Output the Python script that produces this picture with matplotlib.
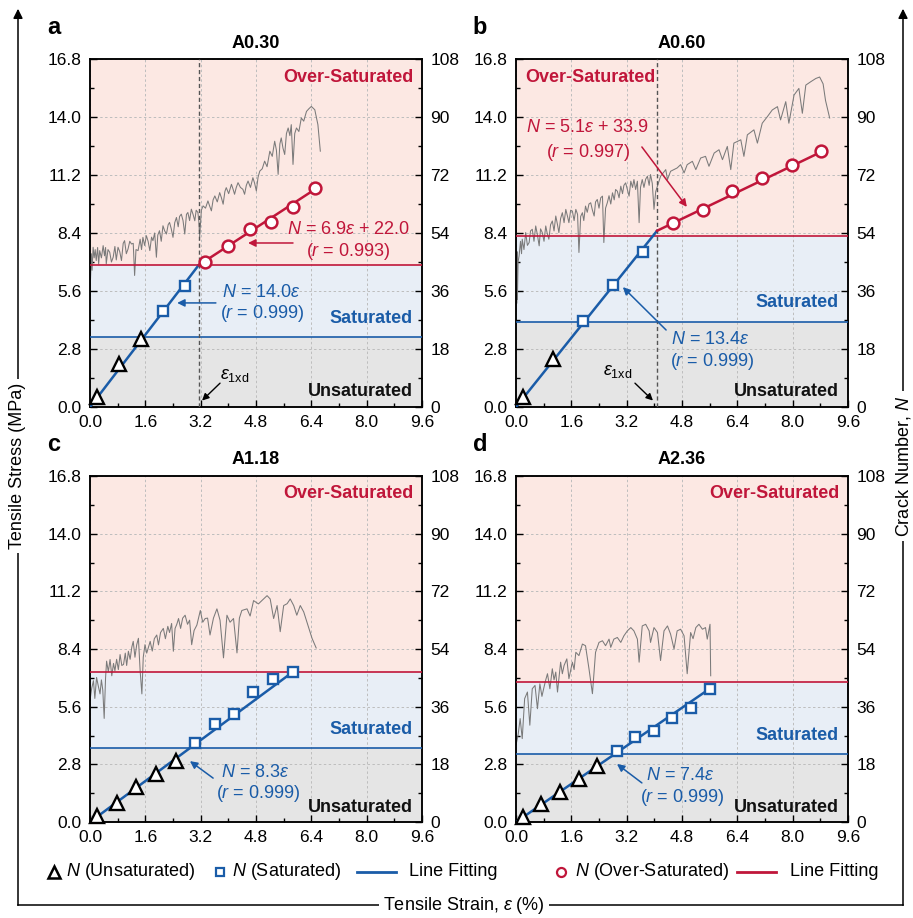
import matplotlib
matplotlib.use('Agg')
import matplotlib.pyplot as plt
from matplotlib import font_manager
from matplotlib.lines import Line2D
from matplotlib.patches import FancyArrowPatch
from matplotlib.ticker import FixedLocator, MultipleLocator

names = {f.name for f in font_manager.fontManager.ttflist}
BASE = 'Liberation Sans' if 'Liberation Sans' in names else 'DejaVu Sans'
HAS_NARROW = 'Liberation Sans Narrow' in names
NARROW = 'Liberation Sans Narrow' if HAS_NARROW else BASE
NARROW_SIZE = 15 if HAS_NARROW else 13

plt.rcParams['font.family'] = [BASE, 'DejaVu Sans']
plt.rcParams['mathtext.fontset'] = 'custom'
plt.rcParams['mathtext.rm'] = BASE
plt.rcParams['mathtext.it'] = BASE + ':italic'
plt.rcParams['mathtext.bf'] = BASE + ':bold'
plt.rcParams['mathtext.sf'] = NARROW + ':italic'

# ---------------- data ----------------
x_ticks = [0.0, 1.6, 3.2, 4.8, 6.4, 8.0, 9.6]
x_tick_labels = ['0.0', '1.6', '3.2', '4.8', '6.4', '8.0', '9.6']
stress_ticks = [0.0, 2.8, 5.6, 8.4, 11.2, 14.0, 16.8]
stress_tick_labels = ['0.0', '2.8', '5.6', '8.4', '11.2', '14.0', '16.8']
crack_ticks = [0, 18, 36, 54, 72, 90, 108]
crack_tick_labels = ['0', '18', '36', '54', '72', '90', '108']

titles = ['A0.30', 'A0.60', 'A1.18', 'A2.36']
letters = ['a', 'b', 'c', 'd']

# stress-strain curves (strain %, stress MPa)
strain_a = [0.0, 0.02, 0.04, 0.06, 0.09, 0.12, 0.15, 0.18, 0.22, 0.25, 0.28, 0.33, 0.38, 0.42, 0.45, 0.47,
            0.52, 0.57, 0.62, 0.67, 0.72, 0.76, 0.81, 0.86, 0.91, 0.96, 1.0, 1.05, 1.1, 1.15, 1.2,
            1.25, 1.29, 1.33, 1.39, 1.45, 1.49, 1.53, 1.58, 1.63, 1.68, 1.73, 1.78, 1.82, 1.87, 1.92,
            1.96, 2.01, 2.06, 2.11, 2.16, 2.21, 2.26, 2.30, 2.35, 2.40, 2.45, 2.50, 2.55, 2.59, 2.64,
            2.69, 2.74, 2.79, 2.83, 2.88, 2.93, 2.98, 3.03, 3.07, 3.12, 3.15, 3.17, 3.22, 3.27,
            3.34, 3.41, 3.46, 3.51, 3.56, 3.61, 3.68, 3.75, 3.80, 3.85, 3.90, 3.94, 4.01, 4.09, 4.14,
            4.18, 4.23, 4.28, 4.35, 4.42, 4.47, 4.52, 4.57, 4.64, 4.71, 4.76, 4.81, 4.86, 4.91, 4.98,
            5.05, 5.12, 5.20, 5.27, 5.34, 5.39, 5.44, 5.49, 5.53, 5.58, 5.63, 5.68, 5.73, 5.78, 5.82,
            5.87, 5.92, 5.97, 6.04, 6.11, 6.18, 6.26, 6.33, 6.40, 6.50, 6.59, 6.66]
stress_a = [5.6, 6.4, 7.4, 6.6, 7.71, 7.2, 7.6, 7.07, 7.7, 6.9, 7.55, 7.2, 7.79, 7.3, 7.7, 6.91,
            7.6, 7.47, 7.0, 7.23, 7.75, 7.1, 7.71, 7.5, 7.07, 7.9, 8.03, 7.4, 7.63, 8.0, 7.87,
            7.9, 6.35, 7.6, 7.55, 8.1, 7.6, 8.19, 7.8, 8.27, 8.0, 7.55, 8.2, 8.03, 8.4, 7.23,
            8.3, 8.51, 8.0, 8.75, 8.5, 8.35, 8.8, 8.91, 8.6, 8.19, 8.9, 9.15, 8.7, 9.2, 9.31,
            9.0, 8.35, 9.3, 9.39, 9.0, 9.55, 9.3, 8.99, 9.5, 9.39, 8.9, 8.19, 9.5, 9.71,
            9.6, 9.95, 9.7, 9.47, 10.0, 10.19, 9.9, 10.35, 10.1, 9.79, 10.4, 10.59, 10.3, 10.75, 10.5,
            10.27, 10.6, 10.83, 10.6, 10.51, 10.27, 10.7, 10.91, 10.6, 11.07, 10.8, 10.43, 11.1, 11.39, 11.5,
            11.87, 11.6, 12.35, 12.1, 12.83, 12.4, 11.23, 12.7, 12.99, 12.5, 12.19, 13.2, 13.47, 13.1, 13.63,
            11.71, 13.2, 13.47, 13.3, 13.95, 13.8, 14.27, 14.4, 14.51, 14.35, 13.63, 12.35]

strain_b = [0.0, 0.01, 0.02, 0.03, 0.04, 0.06, 0.09, 0.13, 0.16, 0.18, 0.23, 0.28, 0.33, 0.38, 0.42, 0.47,
            0.52, 0.57, 0.62, 0.67, 0.71, 0.76, 0.81, 0.86, 0.90, 0.95, 1.0, 1.05, 1.10, 1.15, 1.20,
            1.24, 1.29, 1.34, 1.39, 1.44, 1.49, 1.53, 1.58, 1.63, 1.68, 1.73, 1.78, 1.82, 1.87, 1.92,
            1.96, 2.01, 2.06, 2.11, 2.16, 2.21, 2.26, 2.30, 2.35, 2.40, 2.45, 2.50, 2.54, 2.59, 2.64,
            2.69, 2.74, 2.79, 2.84, 2.88, 2.93, 2.98, 3.03, 3.08, 3.12, 3.17, 3.22, 3.27, 3.32, 3.37,
            3.41, 3.46, 3.51, 3.56, 3.60, 3.65, 3.70, 3.75, 3.80, 3.85, 3.89, 3.94, 3.99, 4.04, 4.09,
            4.18, 4.33, 4.38, 4.47, 4.66, 4.76, 4.86, 4.95, 5.10, 5.20, 5.34, 5.48, 5.58, 5.73, 5.87,
            5.97, 6.11, 6.21, 6.30, 6.50, 6.59, 6.69, 6.88, 6.98, 7.12, 7.27, 7.41, 7.56, 7.65, 7.80,
            7.89, 8.04, 8.18, 8.28, 8.38, 8.52, 8.67, 8.78, 8.88, 8.95, 9.07]
stress_b = [4.6, 7.3, 5.0, 7.5, 5.2, 7.0, 7.30, 8.0, 7.4, 8.10, 7.6, 8.42, 7.8, 7.94, 8.5, 8.58,
            8.0, 8.74, 8.3, 7.78, 8.6, 8.42, 8.0, 8.74, 8.4, 8.10, 8.8, 8.98, 8.5, 9.22, 8.8,
            8.42, 9.1, 9.38, 8.9, 9.54, 9.2, 8.90, 9.5, 9.46, 9.0, 9.54, 9.3, 7.46, 9.2, 9.38,
            9.0, 9.70, 9.4, 9.8, 9.86, 9.5, 9.22, 9.9, 10.02, 9.6, 10.1, 10.18, 7.94, 9.6, 9.86,
            10.2, 9.8, 10.34, 10.0, 10.5, 10.42, 10.1, 10.66, 10.3, 10.7, 10.82, 10.5, 10.18, 10.9, 10.6,
            10.98, 10.5, 10.9, 8.90, 10.6, 10.98, 10.6, 11.0, 11.14, 10.7, 11.22, 10.8, 9.54, 10.4, 10.66,
            11.14, 11.46, 10.98, 11.38, 11.54, 11.70, 11.30, 11.70, 11.86, 11.46, 12.02, 12.10, 11.62, 12.26, 12.42,
            11.94, 12.58, 11.46, 12.74, 12.90, 12.10, 13.14, 13.38, 12.74, 13.70, 14.02, 14.34, 14.50, 13.86, 14.74,
            13.70, 15.06, 15.38, 14.18, 15.54, 15.70, 15.86, 15.93, 15.6, 14.8, 13.95]

strain_c = [0.0, 0.05, 0.10, 0.14, 0.19, 0.24, 0.29, 0.33, 0.37, 0.41, 0.45, 0.48, 0.53, 0.58, 0.63, 0.68,
            0.72, 0.77, 0.82, 0.87, 0.92, 0.97, 1.02, 1.06, 1.11, 1.16, 1.21, 1.25, 1.30, 1.35, 1.40,
            1.45, 1.50, 1.54, 1.59, 1.64, 1.74, 1.80, 1.86, 1.93, 1.98, 2.04, 2.12, 2.18, 2.25, 2.30,
            2.36, 2.41, 2.46, 2.51, 2.56, 2.62, 2.68, 2.75, 2.82, 2.88, 2.94, 3.01, 3.09, 3.19, 3.26,
            3.33, 3.40, 3.47, 3.57, 3.67, 3.76, 3.86, 3.96, 4.05, 4.15, 4.25, 4.32, 4.39, 4.54, 4.63,
            4.73, 4.87, 5.00, 5.12, 5.21, 5.31, 5.41, 5.50, 5.60, 5.70, 5.79, 5.89, 5.98, 6.08, 6.18,
            6.27, 6.42, 6.54]
stress_c = [5.91, 6.5, 6.86, 6.0, 7.02, 6.6, 6.22, 6.9, 6.4, 5.03, 7.0, 7.81, 7.3, 7.89, 7.1, 7.7,
            7.34, 7.9, 7.4, 8.13, 7.6, 7.65, 8.2, 7.6, 8.29, 7.9, 8.5, 8.77, 8.0, 8.6, 8.92,
            7.34, 6.22, 8.0, 8.61, 8.2, 8.77, 8.3, 8.9, 9.08, 8.6, 9.2, 9.40, 8.9, 9.5, 9.2,
            9.64, 8.29, 9.4, 9.6, 9.88, 9.4, 9.9, 10.04, 9.6, 9.8, 8.61, 9.3, 9.56, 10.27, 9.7,
            9.88, 9.9, 9.08, 9.9, 10.35, 9.8, 7.97, 10.04, 9.7, 9.88, 8.21, 9.9, 10.27, 10.35, 10.0,
            10.75, 10.59, 10.8, 10.99, 10.83, 9.88, 10.51, 9.24, 10.51, 10.6, 10.83, 10.51, 10.04, 10.51, 10.2,
            9.72, 8.92, 8.45]

strain_d = [0.0, 0.06, 0.12, 0.18, 0.25, 0.33, 0.40, 0.47, 0.55, 0.62, 0.69, 0.75, 0.81, 0.86, 0.91, 0.98,
            1.05, 1.10, 1.15, 1.20, 1.29, 1.34, 1.39, 1.47, 1.53, 1.63, 1.68, 1.73, 1.82, 1.92, 2.01,
            2.11, 2.21, 2.30, 2.40, 2.50, 2.59, 2.69, 2.74, 2.83, 2.93, 3.03, 3.12, 3.22, 3.32, 3.41,
            3.51, 3.56, 3.65, 3.75, 3.85, 3.89, 3.99, 4.09, 4.18, 4.28, 4.38, 4.47, 4.57, 4.66, 4.76,
            4.86, 4.95, 5.05, 5.12, 5.20, 5.29, 5.39, 5.48, 5.53, 5.61, 5.63]
stress_d = [3.74, 4.22, 5.02, 4.05, 5.99, 6.31, 4.70, 6.47, 6.63, 5.50, 6.71, 6.1, 6.55, 6.9, 7.20, 6.47,
            7.44, 6.9, 7.28, 6.31, 7.76, 7.2, 7.60, 7.92, 6.96, 7.76, 7.4, 8.24, 8.08, 8.64, 8.56,
            7.44, 6.23, 8.24, 8.72, 8.80, 8.56, 8.88, 8.48, 8.88, 8.96, 8.72, 9.04, 9.28, 9.44, 9.28,
            8.88, 7.76, 9.52, 9.60, 9.28, 8.72, 9.44, 9.20, 7.84, 9.28, 9.52, 9.12, 8.40, 9.28, 9.36,
            9.04, 7.20, 9.20, 8.9, 9.44, 9.60, 9.36, 9.44, 8.88, 9.60, 7.10]

# crack numbers
unsat_x_a = [0.19, 0.84, 1.48]
unsat_n_a = [3.0, 13.2, 21.1]
sat_x_a = [2.10, 2.74]
sat_n_a = [29.8, 37.4]
over_x_a = [3.33, 3.99, 4.62, 5.22, 5.88, 6.51]
over_n_a = [45.1, 50.1, 55.2, 57.3, 62.1, 68.1]

unsat_x_b = [0.19, 1.06]
unsat_n_b = [3.0, 15.0]
sat_x_b = [1.94, 2.80, 3.66]
sat_n_b = [26.7, 37.8, 48.2]
over_x_b = [4.53, 5.40, 6.26, 7.12, 7.99, 8.83]
over_n_b = [57.0, 61.0, 67.0, 71.1, 75.0, 79.3]

unsat_x_c = [0.20, 0.77, 1.34, 1.90, 2.48]
unsat_n_c = [2.0, 6.0, 11.0, 15.0, 19.0]
sat_x_c = [3.04, 3.60, 4.16, 4.72, 5.29, 5.86]
sat_n_c = [24.6, 30.6, 33.6, 40.5, 44.6, 46.8]
over_x_c = []
over_n_c = []

unsat_x_d = [0.19, 0.73, 1.27, 1.81, 2.35]
unsat_n_d = [1.5, 5.5, 9.4, 13.5, 17.5]
sat_x_d = [2.91, 3.45, 3.98, 4.52, 5.07, 5.60]
sat_n_d = [22.2, 26.4, 28.4, 32.6, 35.5, 41.6]
over_x_d = []
over_n_d = []

# fitted lines (end points)
fit_blue_x_a = [0.0, 3.14]
fit_blue_n_a = [0.0, 44.0]
fit_red_x_a = [3.14, 6.51]
fit_red_n_a = [44.0, 67.6]
fit_blue_x_b = [0.0, 4.08]
fit_blue_n_b = [0.0, 54.7]
fit_red_x_b = [4.08, 8.83]
fit_red_n_b = [54.7, 79.2]
fit_blue_x_c = [0.0, 5.86]
fit_blue_n_c = [0.0, 46.8]
fit_blue_x_d = [0.0, 5.60]
fit_blue_n_d = [0.0, 41.6]

# zone boundaries (crack number)
sat_bound = [21.7, 26.5, 23.0, 21.3]
over_bound = [44.0, 53.1, 46.8, 43.6]
eps_1xd = [3.14, 4.08, None, None]

blue_eq = ['$N$ = 14.0$\\varepsilon$', '$N$ = 13.4$\\varepsilon$', '$N$ = 8.3$\\varepsilon$', '$N$ = 7.4$\\varepsilon$']
blue_r = ['($r$ = 0.999)', '($r$ = 0.999)', '($r$ = 0.999)', '($r$ = 0.999)']
red_eq = ['$N$ = 6.9$\\varepsilon$ + 22.0', '$N$ = 5.1$\\varepsilon$ + 33.9', None, None]
red_r = ['($r$ = 0.993)', '($r$ = 0.997)', None, None]

# ---------------- style ----------------
RED = '#C0163A'
BLUE = '#1A5CA8'
PINK = '#FCE8E3'
LBLUE = '#E8EEF6'
GRAYBG = '#E5E5E5'
CURVE = '#7A7A7A'
K = 16.8 / 108.0

W, H = 913, 918
fig = plt.figure(figsize=(W / 100, H / 100), dpi=100)


def fx(p):
    return p / W


def fy(p):
    return 1 - p / H


rects = [(90, 59, 422, 407), (516, 59, 848, 407), (90, 476, 422, 822), (516, 476, 848, 822)]

panels = [
    dict(strain=strain_a, stress=stress_a, ux=unsat_x_a, un=unsat_n_a, sx=sat_x_a, sn=sat_n_a,
         ox=over_x_a, on=over_n_a, fbx=fit_blue_x_a, fbn=fit_blue_n_a, frx=fit_red_x_a, frn=fit_red_n_a,
         over_side='right',
         beq=(4.95, 35.4), br=(4.98, 28.9), barrow=((3.64, 32.3), (2.52, 32.3)),
         req=(7.47, 55.2), rr=(7.47, 48.4), rarrow=((5.87, 50.9), (4.57, 50.9)),
         epslab=(4.17, 9.9), epsarrow=((3.76, 7.4), (3.24, 2.0)), unsat_y=0.045),
    dict(strain=strain_b, stress=stress_b, ux=unsat_x_b, un=unsat_n_b, sx=sat_x_b, sn=sat_n_b,
         ox=over_x_b, on=over_n_b, fbx=fit_blue_x_b, fbn=fit_blue_n_b, frx=fit_red_x_b, frn=fit_red_n_b,
         over_side='left',
         beq=(5.61, 21.1), br=(5.67, 14.0), barrow=((4.34, 23.9), (3.09, 37.2)),
         req=(2.08, 86.6), rr=(2.10, 79.1), rarrow=((3.64, 80.7), (4.94, 62.1)),
         epslab=(2.95, 10.9), epsarrow=((3.44, 7.4), (3.96, 2.0)), unsat_y=0.045),
    dict(strain=strain_c, stress=stress_c, ux=unsat_x_c, un=unsat_n_c, sx=sat_x_c, sn=sat_n_c,
         ox=over_x_c, on=over_n_c, fbx=fit_blue_x_c, fbn=fit_blue_n_c, frx=None, frn=None,
         over_side='right',
         beq=(4.77, 15.6), br=(4.86, 9.0), barrow=((3.56, 13.7), (2.89, 19.0)),
         req=None, rr=None, rarrow=None, epslab=None, epsarrow=None, unsat_y=0.042),
    dict(strain=strain_d, stress=stress_d, ux=unsat_x_d, un=unsat_n_d, sx=sat_x_d, sn=sat_n_d,
         ox=over_x_d, on=over_n_d, fbx=fit_blue_x_d, fbn=fit_blue_n_d, frx=None, frn=None,
         over_side='right',
         beq=(4.74, 14.4), br=(4.80, 7.5), barrow=((3.64, 12.2), (2.92, 18.1)),
         req=None, rr=None, rarrow=None, epslab=None, epsarrow=None, unsat_y=0.042),
]

for i, p in enumerate(panels):
    l, t, r, b = rects[i]
    ax = fig.add_axes([fx(l), fy(b), fx(r) - fx(l), (b - t) / H])
    ax2 = ax.twinx()
    ax.set_xlim(0, 9.6)
    ax.set_ylim(0, 16.8)
    ax2.set_ylim(0, 108)

    # zones
    ax.axhspan(0, sat_bound[i] * K, color=GRAYBG, zorder=0, lw=0)
    ax.axhspan(sat_bound[i] * K, over_bound[i] * K, color=LBLUE, zorder=0, lw=0)
    ax.axhspan(over_bound[i] * K, 16.8, color=PINK, zorder=0, lw=0)
    ax.set_axisbelow(True)
    ax.grid(True, which='major', color='#BDBDBD', ls=(0, (2.5, 2.5)), lw=0.7)

    # ticks
    ax.xaxis.set_major_locator(FixedLocator(x_ticks))
    ax.set_xticklabels(x_tick_labels)
    ax.xaxis.set_minor_locator(MultipleLocator(0.8))
    ax.yaxis.set_major_locator(FixedLocator(stress_ticks))
    ax.set_yticklabels(stress_tick_labels)
    ax.yaxis.set_minor_locator(MultipleLocator(1.4))
    ax2.yaxis.set_major_locator(FixedLocator(crack_ticks))
    ax2.set_yticklabels(crack_tick_labels)
    ax2.yaxis.set_minor_locator(MultipleLocator(9))
    ax.tick_params(axis='both', which='both', direction='in', top=False, right=False, labelsize=12.5, width=1)
    ax.tick_params(axis='both', which='major', length=5)
    ax.tick_params(axis='both', which='minor', length=3)
    ax.tick_params(axis='y', pad=6)
    ax.tick_params(axis='x', pad=6)
    ax2.tick_params(axis='y', which='both', direction='in', labelsize=12.5, width=1, pad=6)
    ax2.tick_params(axis='y', which='major', length=5)
    ax2.tick_params(axis='y', which='minor', length=3)
    for sp in list(ax.spines.values()) + list(ax2.spines.values()):
        sp.set_linewidth(1.1)

    # stress curve
    ax.plot(p['strain'], p['stress'], color=CURVE, lw=0.75, zorder=2)

    # boundaries
    ax2.axhline(sat_bound[i], color=BLUE, lw=1.2, zorder=3)
    ax2.axhline(over_bound[i], color=RED, lw=1.2, zorder=3)

    if eps_1xd[i] is not None:
        ax2.axvline(eps_1xd[i], color='#555555', lw=1.0, ls=(0, (3, 2)), zorder=3)

    # fits
    ax2.plot(p['fbx'], p['fbn'], color=BLUE, lw=1.8, zorder=4)
    if p['frx'] is not None:
        ax2.plot(p['frx'], p['frn'], color=RED, lw=1.8, zorder=4)

    # markers
    ax2.plot(p['ux'], p['un'], ls='none', marker='^', ms=9.5, mfc='white', mec='black', mew=1.7, zorder=5,
             clip_on=False)
    ax2.plot(p['sx'], p['sn'], ls='none', marker='s', ms=7.5, mfc='white', mec=BLUE, mew=1.7, zorder=5)
    if p['ox']:
        ax2.plot(p['ox'], p['on'], ls='none', marker='o', ms=8.5, mfc='white', mec=RED, mew=1.8, zorder=5)

    # zone labels
    if p['over_side'] == 'right':
        ax2.text(0.973, 0.948, 'Over-Saturated', transform=ax2.transAxes, ha='right', va='center',
                 color=RED, fontsize=13, fontweight='bold', zorder=6)
    else:
        ax2.text(0.027, 0.948, 'Over-Saturated', transform=ax2.transAxes, ha='left', va='center',
                 color=RED, fontsize=13, fontweight='bold', zorder=6)
    ax2.annotate('Saturated', xy=(0.973, sat_bound[i]), xycoords=('axes fraction', 'data'),
                 xytext=(0, 13.5), textcoords='offset points', ha='right', va='center',
                 color=BLUE, fontsize=13, fontweight='bold', zorder=6)
    ax2.text(0.973, p['unsat_y'], 'Unsaturated', transform=ax2.transAxes, ha='right', va='center',
             color='#111111', fontsize=13, fontweight='bold', zorder=6)

    # equations
    ax2.text(*p['beq'], blue_eq[i], ha='center', va='center', color=BLUE, fontsize=13, zorder=6)
    ax2.text(*p['br'], blue_r[i], ha='center', va='center', color=BLUE, fontsize=13, zorder=6)
    ax2.annotate('', xy=p['barrow'][1], xytext=p['barrow'][0],
                 arrowprops=dict(arrowstyle='-|>', color=BLUE, lw=1.1, mutation_scale=11,
                                 shrinkA=0, shrinkB=0), zorder=6)
    if p['req'] is not None:
        ax2.text(*p['req'], red_eq[i], ha='center', va='center', color=RED, fontsize=13, zorder=6)
        ax2.text(*p['rr'], red_r[i], ha='center', va='center', color=RED, fontsize=13, zorder=6)
        ax2.annotate('', xy=p['rarrow'][1], xytext=p['rarrow'][0],
                     arrowprops=dict(arrowstyle='-|>', color=RED, lw=1.1, mutation_scale=11,
                                     shrinkA=0, shrinkB=0), zorder=6)
    if p['epslab'] is not None:
        ax2.text(*p['epslab'], '$\\varepsilon_{\\mathrm{1xd}}$', ha='center', va='center',
                 color='black', fontsize=13, zorder=6)
        ax2.annotate('', xy=p['epsarrow'][1], xytext=p['epsarrow'][0],
                     arrowprops=dict(arrowstyle='-|>', color='black', lw=1.0, mutation_scale=10,
                                     shrinkA=0, shrinkB=0), zorder=6)

    # title and panel letter
    fig.text(fx((l + r) / 2), fy(t - 16), titles[i], ha='center', va='center', fontsize=13,
             fontweight='bold')
    fig.text(fx(l - 36), fy(t - 32), letters[i], ha='center', va='center', fontsize=17,
             fontweight='bold')

# ---------------- outer frame ----------------
LX, RX, BY, TY = 18, 903, 905, 6
fig.add_artist(Line2D([fx(LX), fx(RX)], [fy(BY), fy(BY)], color='black', lw=1.1))
fig.add_artist(Line2D([fx(LX), fx(LX)], [fy(BY), fy(TY + 10)], color='black', lw=1.1))
fig.add_artist(Line2D([fx(RX), fx(RX)], [fy(BY), fy(TY + 10)], color='black', lw=1.1))
for xx in (LX, RX):
    fig.add_artist(FancyArrowPatch((fx(xx), fy(TY + 14)), (fx(xx), fy(TY)), transform=fig.transFigure,
                                   arrowstyle='-|>', mutation_scale=14, color='black', lw=1.1))

box = dict(facecolor='white', edgecolor='none', pad=3)
fig.text(fx(LX), fy(466), 'Tensile Stress (MPa)', rotation=90, ha='center', va='center',
         family=NARROW, fontsize=NARROW_SIZE, bbox=box)
fig.text(fx(RX), fy(466), 'Crack Number, $\\mathsf{N}$', rotation=90, ha='center', va='center',
         family=NARROW, fontsize=NARROW_SIZE, bbox=box)
fig.text(fx(464), fy(BY), 'Tensile Strain, $\\mathsf{\\varepsilon}$ (%)', ha='center', va='center',
         family=NARROW, fontsize=NARROW_SIZE, bbox=box)

# ---------------- legend ----------------
LY = 872
fig.add_artist(Line2D([fx(54)], [fy(LY)], marker='^', ms=8, mfc='white', mec='black', mew=1.8, ls='none'))
fig.text(fx(66), fy(LY), '$\\mathsf{N}$ (Unsaturated)', ha='left', va='center', family=NARROW,
         fontsize=NARROW_SIZE)
fig.add_artist(Line2D([fx(220)], [fy(LY)], marker='s', ms=6, mfc='white', mec=BLUE, mew=1.6, ls='none'))
fig.text(fx(232), fy(LY), '$\\mathsf{N}$ (Saturated)', ha='left', va='center', family=NARROW,
         fontsize=NARROW_SIZE)
fig.add_artist(Line2D([fx(357), fx(396)], [fy(LY), fy(LY)], color=BLUE, lw=2))
fig.text(fx(409), fy(LY), 'Line Fitting', ha='left', va='center', family=NARROW, fontsize=NARROW_SIZE)
fig.add_artist(Line2D([fx(561)], [fy(LY)], marker='o', ms=6.5, mfc='white', mec=RED, mew=1.6, ls='none'))
fig.text(fx(575), fy(LY), '$\\mathsf{N}$ (Over-Saturated)', ha='left', va='center', family=NARROW,
         fontsize=NARROW_SIZE)
fig.add_artist(Line2D([fx(737), fx(776)], [fy(LY), fy(LY)], color=RED, lw=2))
fig.text(fx(790), fy(LY), 'Line Fitting', ha='left', va='center', family=NARROW, fontsize=NARROW_SIZE)

fig.savefig('out.png', dpi=100)
